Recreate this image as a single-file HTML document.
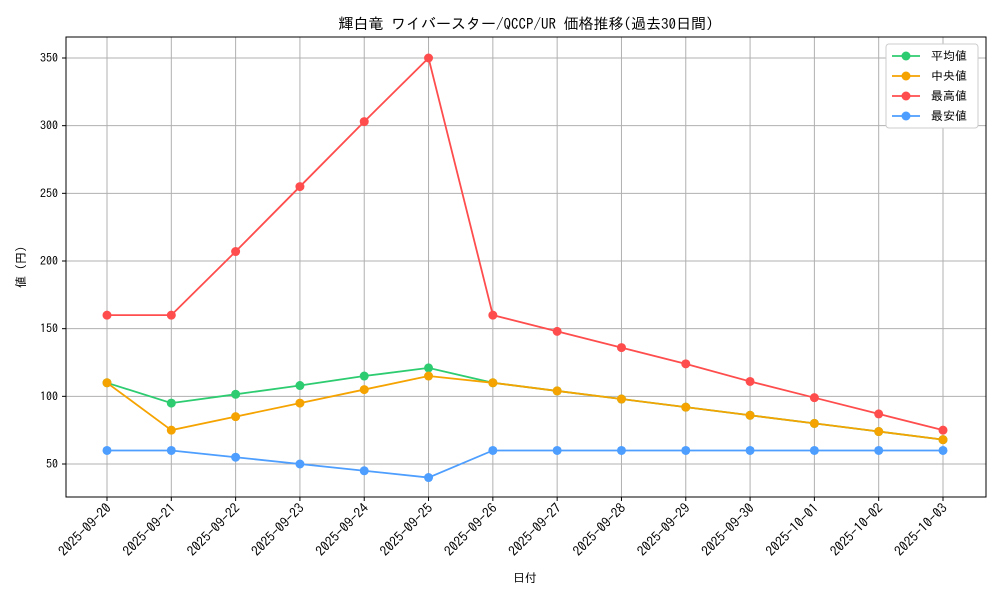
<!DOCTYPE html>
<html><head><meta charset="utf-8"><style>
body{margin:0;background:#fff}
svg text{font-family:"IPAGothic","Liberation Sans","Noto Sans CJK JP",sans-serif;fill:#000}
</style></head><body>
<svg id="chart" width="1000" height="600" xmlns="http://www.w3.org/2000/svg">
<rect width="1000" height="600" fill="#fff"/>
<text x="526" y="29" font-size="15" text-anchor="middle">輝白竜 ワイバースター/QCCP/UR 価格推移(過去30日間)</text>
<g id="grid"></g>
<g id="axes"></g>
<g id="series"></g>
<rect x="66" y="37" width="920" height="460" fill="none" stroke="#000" stroke-width="1"/>
<text x="525" y="582" font-size="12" text-anchor="middle">日付</text>
<text transform="translate(25,267) rotate(-90)" font-size="12" text-anchor="middle">値 (円)</text>
<g id="legend"></g>
</svg>
<script>
const categories=["2025-09-20","2025-09-21","2025-09-22","2025-09-23","2025-09-24","2025-09-25","2025-09-26","2025-09-27","2025-09-28","2025-09-29","2025-09-30","2025-10-01","2025-10-02","2025-10-03"];
const avgValues=[110,95,101.5,108,115,121,110,104,98,92,86,80,74,68];
const medianValues=[110,75,85,95,105,115,110,104,98,92,86,80,74,68];
const maxValues=[160,160,207,255,303,350,160,148,136,124,111,99,87,75];
const minValues=[60,60,55,50,45,40,60,60,60,60,60,60,60,60];
const yTicks=[50,100,150,200,250,300,350];
const seriesNames=["平均値","中央値","最高値","最安値"];
const NS="http://www.w3.org/2000/svg";
function xScale(i){return 107+i*(943-107)/(categories.length-1);}
function yScale(v){return 464-(v-50)*(406/300);}
function mk(tag,attrs,parent){const e=document.createElementNS(NS,tag);for(const k in attrs)e.setAttribute(k,attrs[k]);parent.appendChild(e);return e;}
const grid=document.getElementById('grid'),axes=document.getElementById('axes'),ser=document.getElementById('series'),leg=document.getElementById('legend');
categories.forEach((c,i)=>{
  const x=xScale(i);
  const g=mk('line',{x1:x,x2:x,y1:37,y2:497,stroke:'#b0b0b0','stroke-width':1},grid);
  
  
  mk('line',{x1:x,x2:x,y1:497,y2:501,stroke:'#000'},axes);
  const t=mk('text',{x:x+5,y:509,'font-size':13.5,'text-anchor':'end',transform:`rotate(-45 ${x+5} 509)`},axes);
  t.textContent=c;
  
  
});
yTicks.forEach(v=>{
  const y=yScale(v);
  const g=mk('line',{x1:66,x2:986,y1:y,y2:y,stroke:'#b0b0b0','stroke-width':1},grid);
  
  
  mk('line',{x1:62,x2:66,y1:y,y2:y,stroke:'#000'},axes);
  const t=mk('text',{x:58,y:y+4,'font-size':12,'text-anchor':'end'},axes);
  t.textContent=v;
  
  
});
const allSeries=[[avgValues,'#2ecc71','average-series'],[medianValues,'#f5a300','median-series'],[maxValues,'#ff4d4d','max-series'],[minValues,'#4d9eff','min-series']];
allSeries.forEach(([vals,col,name])=>{
  const g=mk('g',{},ser);
  
  
  mk('polyline',{points:vals.map((v,i)=>xScale(i)+','+yScale(v)).join(' '),fill:'none',stroke:col,'stroke-width':1.8},g);
  vals.forEach((v,i)=>{
    const c=mk('circle',{cx:xScale(i),cy:yScale(v),r:4.5,fill:col},g);
    
    
  });
});
mk('rect',{x:886,y:44,width:92,height:84,fill:'#fff',stroke:'#ccc',rx:3},leg);
allSeries.forEach(([vals,col,name],k)=>{
  const y=56+k*20;
  const e=mk('g',{},leg);
  
  
  mk('line',{x1:892,x2:920,y1:y,y2:y,stroke:col,'stroke-width':1.8},e);
  mk('circle',{cx:906,cy:y,r:4.5,fill:col},e);
  const t=mk('text',{x:931,y:y+4,'font-size':12},e);
  t.textContent=seriesNames[k];
});
</script>
</body></html>
